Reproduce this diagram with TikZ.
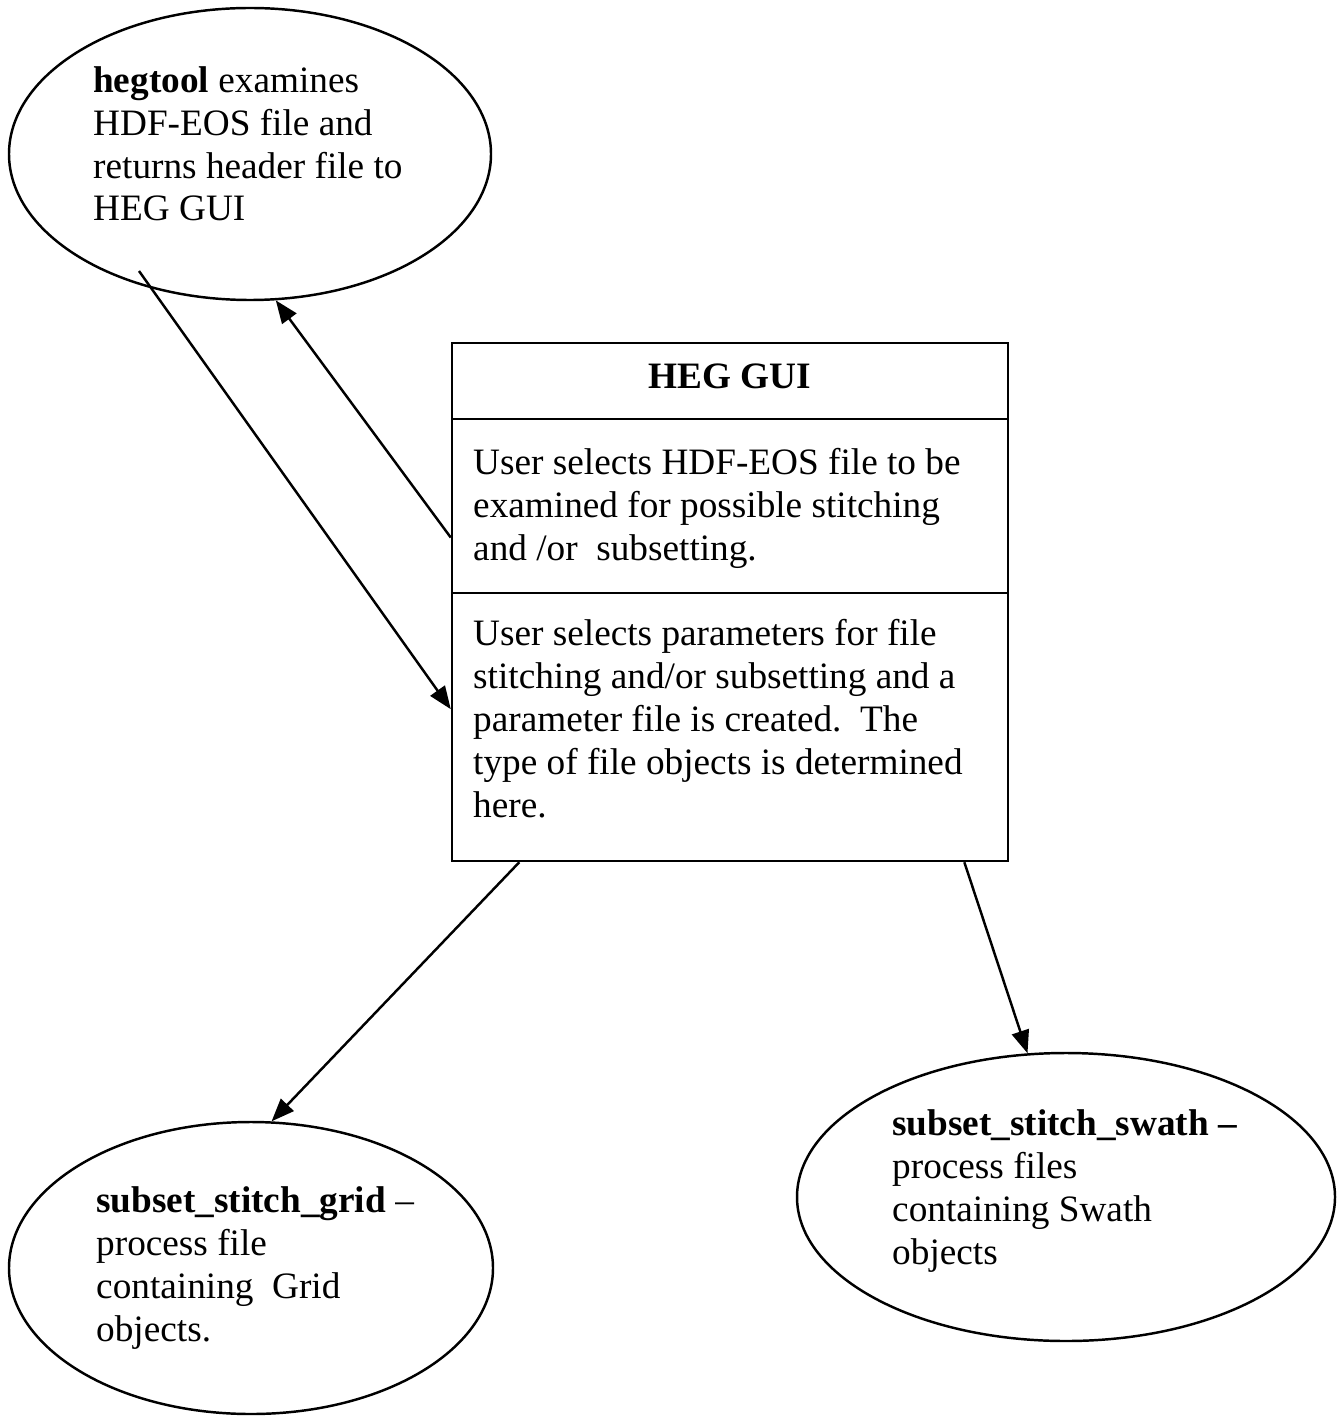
\documentclass[tikz,border=0pt]{standalone}
\usepackage{fontspec}
\setmainfont{Liberation Serif}
\usetikzlibrary{arrows.meta,shapes.geometric}

\begin{document}
\begin{tikzpicture}[x=1cm,y=-1cm,line width=0.7pt,
  bubble/.style={draw, ellipse, inner sep=0pt},
  txt/.style={anchor=base west, inner sep=0pt, align=left, font=\fontsize{10.6}{12.2}\selectfont},
  arr/.style={-{Triangle[length=6.5pt,width=5pt]}}]
\useasboundingbox (0,0) rectangle (13.37,14.18);

\node[bubble, minimum width=4.82cm, minimum height=2.92cm] (hegtool) at (2.50,1.54) {};
\node[bubble, minimum width=4.84cm, minimum height=2.92cm] (grid) at (2.51,12.68) {};
\node[bubble, minimum width=5.38cm, minimum height=2.88cm] (swath) at (10.66,11.97) {};
\node[draw, minimum width=5.56cm, minimum height=5.18cm, inner sep=0pt] (gui) at (7.30,6.02) {};

% texts sit on the baseline of their last line
\node[txt] (hegtoolText) at (0.92,2.21) {\textbf{hegtool} examines\\HDF-EOS file and\\returns header file to\\HEG GUI};
\node[txt] (gridText) at (0.95,13.41) {\textbf{subset\_stitch\_grid} --\\process file\\containing\ \ Grid\\objects.};
\node[txt] (swathText) at (8.91,12.64) {\textbf{subset\_stitch\_swath --}\\process files\\containing Swath\\objects};

% sections of the gui box
\coordinate (div1) at (4.51,4.19);
\coordinate (div2) at (4.51,5.93);
\draw (div1) -- (div1 -| gui.east);
\draw (div2) -- (div2 -| gui.east);
\node[txt, anchor=base, font=\fontsize{10.6}{12.2}\selectfont\bfseries] (guiTitle) at (7.30,3.88) {HEG GUI};
\node[txt] (guiSelect) at (4.72,5.60) {User selects HDF-EOS file to be\\examined for possible stitching\\and /or\ \ subsetting.};
\node[txt] (guiParams) at (4.72,8.17) {User selects parameters for file\\stitching and/or subsetting and a\\parameter file is created.\ \ The\\type of file objects is determined\\here.};

% draw the arrows
\coordinate (hegtoolOut) at (1.39,2.71);
\draw[arr] (hegtoolOut) -- (gui.201.5);
\draw[arr] (gui.167) -- (hegtool.280);
\draw[arr] (gui.231.9) -- (grid.82);
\draw[arr] (gui.312.8) -- (swath.105);

\end{tikzpicture}
\end{document}
